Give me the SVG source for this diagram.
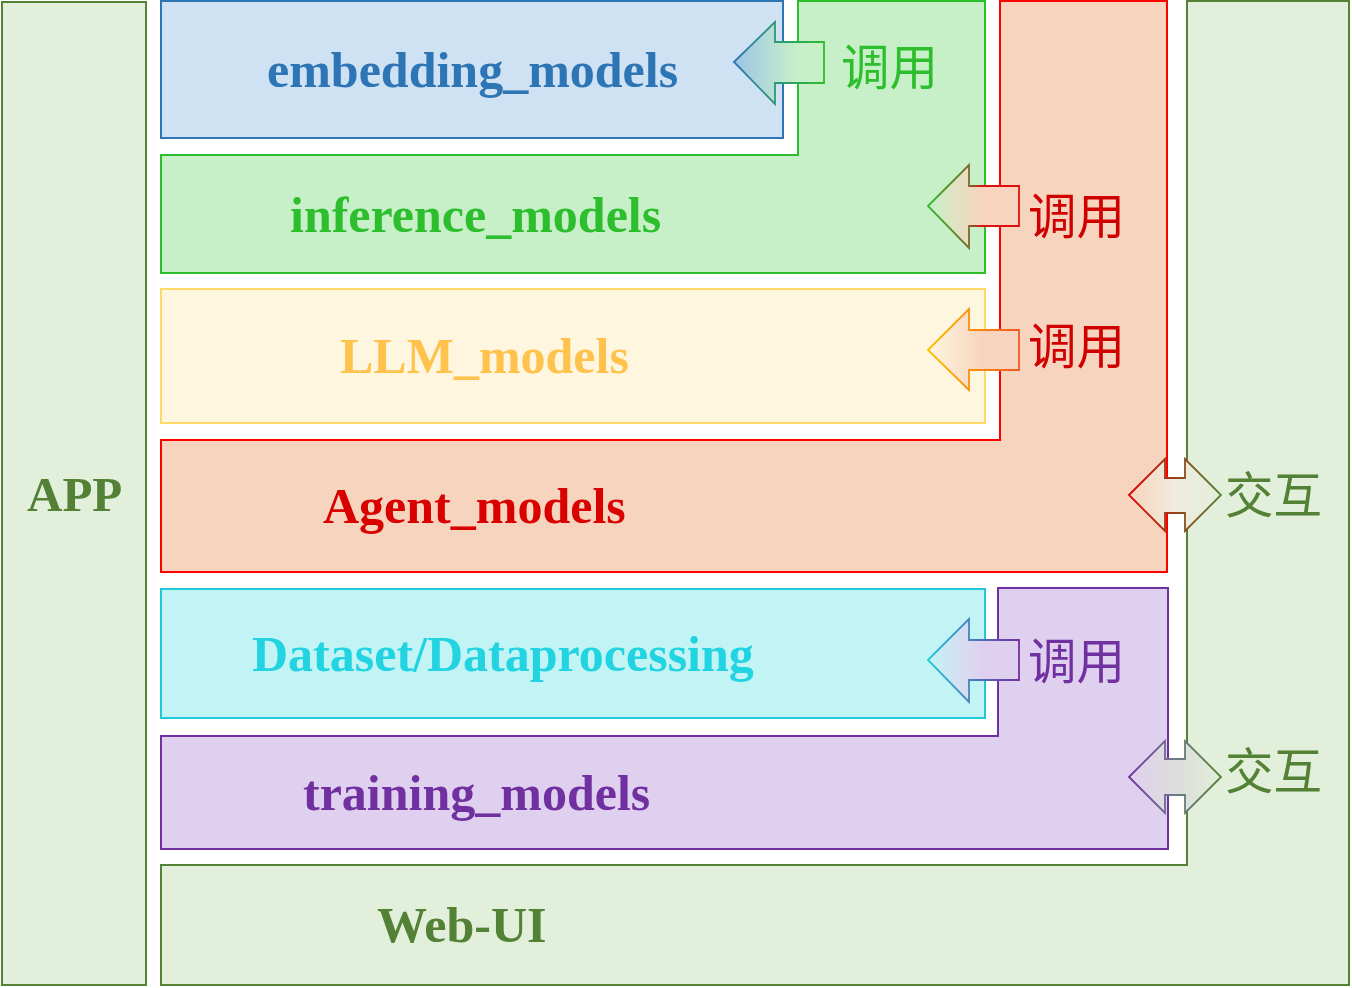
<svg xmlns="http://www.w3.org/2000/svg" width="1352" height="988" viewBox="0 0 1352 988">
<style>
.box{stroke-width:2}
.lbl{font-family:"Liberation Serif","Times New Roman",serif;font-weight:bold;font-size:50px}
.cn{font-family:"Noto Sans CJK SC","Noto Sans",sans-serif;font-size:48.5px}
.arr{stroke-width:1.8}
</style>
<defs>
<linearGradient id="gf1" x1="0" y1="0" x2="1" y2="0"><stop offset="0" stop-color="#9DC3E6"/><stop offset="0.7" stop-color="#C8F0C8"/><stop offset="1" stop-color="#C8F0C8"/></linearGradient>
<linearGradient id="gs1" x1="0" y1="0" x2="1" y2="0"><stop offset="0" stop-color="#2E75B6"/><stop offset="1" stop-color="#2DBE2D"/></linearGradient>
<linearGradient id="gf2" x1="0" y1="0" x2="1" y2="0"><stop offset="0" stop-color="#C8F0C8"/><stop offset="0.6" stop-color="#F7D4BD"/><stop offset="1" stop-color="#F7D4BD"/></linearGradient>
<linearGradient id="gs2" x1="0" y1="0" x2="1" y2="0"><stop offset="0" stop-color="#2DBE2D"/><stop offset="0.45" stop-color="#7A6A2A"/><stop offset="0.6" stop-color="#E01010"/><stop offset="1" stop-color="#E01010"/></linearGradient>
<linearGradient id="gf3" x1="0" y1="0" x2="1" y2="0"><stop offset="0" stop-color="#FFF6E0"/><stop offset="0.6" stop-color="#F7D4BD"/><stop offset="1" stop-color="#F7D4BD"/></linearGradient>
<linearGradient id="gs3" x1="0" y1="0" x2="1" y2="0"><stop offset="0" stop-color="#FFC000"/><stop offset="1" stop-color="#F05A20"/></linearGradient>
<linearGradient id="gf4" x1="0" y1="0" x2="1" y2="0"><stop offset="0" stop-color="#C3F4F5"/><stop offset="0.6" stop-color="#E0D0F0"/><stop offset="1" stop-color="#E0D0F0"/></linearGradient>
<linearGradient id="gs4" x1="0" y1="0" x2="1" y2="0"><stop offset="0" stop-color="#22C8D8"/><stop offset="1" stop-color="#7030A0"/></linearGradient>
<linearGradient id="gf5" x1="0" y1="0" x2="1" y2="0"><stop offset="0" stop-color="#F7D4BD"/><stop offset="0.5" stop-color="#F0EBDD"/><stop offset="1" stop-color="#E2EFDA"/></linearGradient>
<linearGradient id="gs5" x1="0" y1="0" x2="1" y2="0"><stop offset="0" stop-color="#E00000"/><stop offset="1" stop-color="#538135"/></linearGradient>
<linearGradient id="gf6" x1="0" y1="0" x2="1" y2="0"><stop offset="0" stop-color="#E0D0F0"/><stop offset="0.5" stop-color="#DCDCDC"/><stop offset="1" stop-color="#E2EFDA"/></linearGradient>
<linearGradient id="gs6" x1="0" y1="0" x2="1" y2="0"><stop offset="0" stop-color="#7030A0"/><stop offset="0.5" stop-color="#6E7A8A"/><stop offset="1" stop-color="#538135"/></linearGradient>
</defs>
<rect width="1352" height="988" fill="#FFFFFF"/>

<g id="app">
<rect class="box" x="2" y="2" width="144" height="983" fill="#E2EFDA" stroke="#538135"/>
<text class="lbl" x="27" y="511" style="font-size:49px" fill="#538135">APP</text>
</g>

<g id="webui">
<path class="box" d="M161,865 H1187 V1 H1349 V985 H161 Z" fill="#E2EFDA" stroke="#538135"/>
<text class="lbl" x="377" y="942" fill="#538135">Web-UI</text>
</g>

<g id="embedding_models">
<rect class="box" x="161" y="1" width="622" height="137" fill="#CFE2F3" stroke="#2E75B6"/>
<text class="lbl" x="267" y="87" fill="#2E75B6">embedding_models</text>
</g>

<g id="inference_models">
<path class="box" d="M161,155 H798 V1 H985 V273 H161 Z" fill="#C8F0C8" stroke="#2DBE2D"/>
<text class="lbl" x="290" y="232" fill="#2DBE2D">inference_models</text>
</g>

<g id="llm_models">
<rect class="box" x="161" y="289" width="824" height="134" fill="#FFF6E0" stroke="#FFD966"/>
<text class="lbl" x="340" y="373" fill="#FFC34D">LLM_models</text>
</g>

<g id="agent_models">
<path class="box" d="M161,440 H1000 V1 H1167 V572 H161 Z" fill="#F7D4BD" stroke="#FF0000"/>
<text class="lbl" x="323" y="523" fill="#D90000">Agent_models</text>
</g>

<g id="dataset">
<rect class="box" x="161" y="589" width="824" height="129" fill="#C3F4F5" stroke="#22C8D8"/>
<text class="lbl" x="252" y="671" fill="#22D3E2">Dataset/Dataprocessing</text>
</g>

<g id="training_models">
<path class="box" d="M161,736 H998 V588 H1168 V849 H161 Z" fill="#E0D0F0" stroke="#7030A0"/>
<text class="lbl" x="303" y="810" fill="#7030A0">training_models</text>
</g>

<g id="connectors">
<polygon class="arr" points="734,62 775,22 775,42 824,42 824,83 775,83 775,104" fill="url(#gf1)" stroke="url(#gs1)"/>
<text class="cn" x="841" y="85" fill="#2DBE2D">调用</text>

<polygon class="arr" points="928,206 969,165 969,186 1019,186 1019,226 969,226 969,248" fill="url(#gf2)" stroke="url(#gs2)"/>
<text class="cn" x="1028" y="234" fill="#D00000">调用</text>

<polygon class="arr" points="928,350 969,309 969,330 1019,330 1019,370 969,370 969,390" fill="url(#gf3)" stroke="url(#gs3)"/>
<text class="cn" x="1028" y="364" fill="#D00000">调用</text>

<polygon class="arr" points="928,660 969,619 969,640 1019,640 1019,680 969,680 969,702" fill="url(#gf4)" stroke="url(#gs4)"/>
<text class="cn" x="1028" y="679" fill="#7030A0">调用</text>

<polygon class="arr" points="1129,495 1165,459 1165,478 1185,478 1185,459 1221,495 1185,531 1185,513 1165,513 1165,531" fill="url(#gf5)" stroke="url(#gs5)"/>
<text class="cn" x="1225" y="513" fill="#538135">交互</text>

<polygon class="arr" points="1129,777 1165,741 1165,759 1185,759 1185,741 1221,777 1185,813 1185,795 1165,795 1165,813" fill="url(#gf6)" stroke="url(#gs6)"/>
<text class="cn" x="1225" y="789" fill="#538135">交互</text>
</g>
</svg>
